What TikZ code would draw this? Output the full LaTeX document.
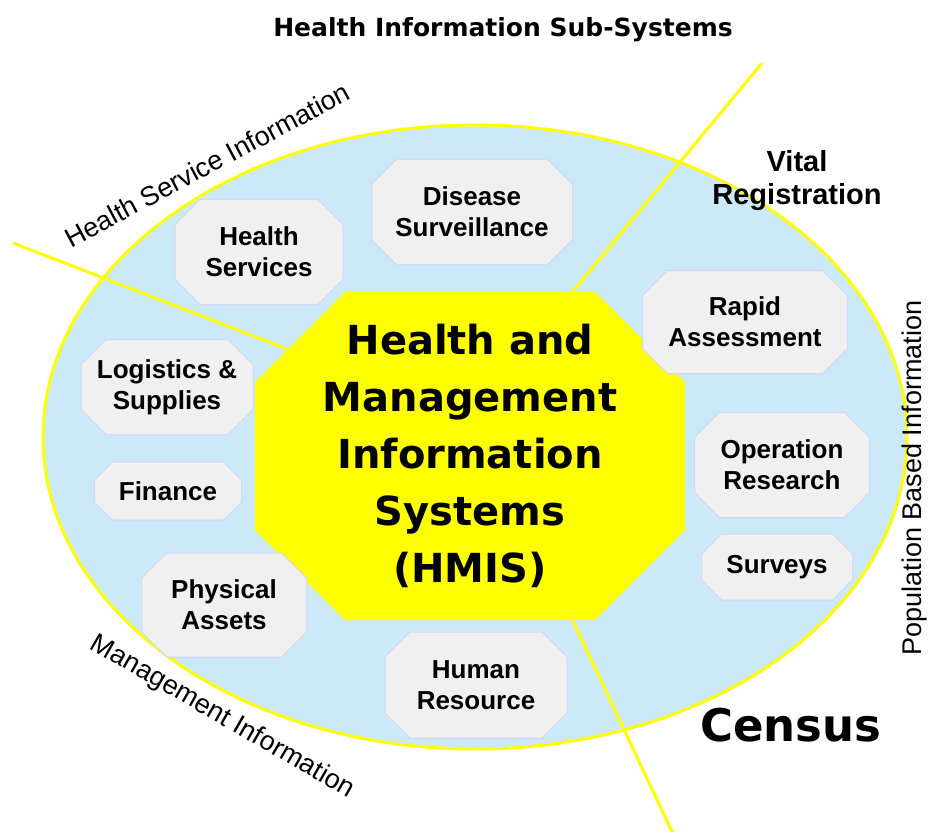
\documentclass[tikz,border=0pt]{standalone}
\usepackage{fontspec}
\setmainfont{Liberation Sans}
\newfontfamily\heavyfont{DejaVu Sans}
\pgfdeclarelayer{background}
\pgfsetlayers{background,main}
\definecolor{skyfill}{HTML}{CCE9FA}
\definecolor{boxfill}{HTML}{F0F0F0}
\definecolor{boxline}{HTML}{D6D6F6}
\definecolor{hmisyellow}{HTML}{FFFF00}
\tikzset{
  ring/.style={
    draw=hmisyellow,
    fill=skyfill,
    line width=3pt
  },
  divider/.style={
    draw=hmisyellow,
    line width=3pt
  },
  subsystem/.style={
    fill=boxfill,
    draw=boxline,
    line width=1pt
  },
  subsystemtext/.style={
    align=center,
    inner sep=0pt,
    font=\bfseries\fontsize{26}{31}\selectfont
  },
  core/.style={
    fill=hmisyellow
  },
  coretext/.style={
    align=center,
    inner sep=0pt,
    minimum width=430pt,
    minimum height=328pt,
    font=\heavyfont\bfseries\fontsize{40}{57}\selectfont
  },
  sidelabel/.style={
    font=\fontsize{27}{27}\selectfont
  },
  heading/.style={
    align=center,
    font=\heavyfont\bfseries\fontsize{#1}{#1}\selectfont
  }
}

\begin{document}
\begin{tikzpicture}[x=1pt,y=-1pt]
\useasboundingbox (0,0) rectangle (943,832);
% outer oval
\begin{pgfonlayer}{background}
\draw[ring] (475,437) ellipse [x radius=432pt, y radius=312pt];
\end{pgfonlayer}
% centre
\path[core] (470,456) ++(-125,-164) -- ++(250,0) -- ++(90,90) -- ++(0,148) -- ++(-90,90)
  -- ++(-250,0) -- ++(-90,-90) -- ++(0,-148) -- cycle;
\node[coretext] (hmis) at (470,456) {Health and\\Management\\Information\\Systems\\(HMIS)};
% sub-systems
\foreach \name/\cx/\cy/\bw/\bh/\bcut/\txt in {
  services/259/252/168/105/25/{Health\\Services},
  disease/472/212/201/105/25/{Disease\\Surveillance},
  rapid/745/322/205/103/25/{Rapid\\Assessment},
  operation/782/465/175/105/25/{Operation\\Research},
  surveys/777/567/151/66/20/{Surveys},
  human/476/685/182/106/25/{Human\\Resource},
  assets/224/605/165/104/25/{Physical\\Assets},
  finance/168/491/147/58/18/{Finance},
  logistics/167/387/172/95/25/{Logistics \&\\Supplies}%
} {
  \path[subsystem] (\cx,\cy) ++(-\bw/2+\bcut,-\bh/2) -- ++(\bw-2*\bcut,0) -- ++(\bcut,\bcut)
    -- ++(0,\bh-2*\bcut) -- ++(-\bcut,\bcut) -- ++(-\bw+2*\bcut,0) -- ++(-\bcut,-\bcut)
    -- ++(0,-\bh+2*\bcut) -- cycle;
  \node[subsystemtext] (\name) at (\cx,\cy) {\txt};
}
% dividing lines
\coordinate (westend) at (13,243);
\coordinate (northend) at (762,63);
\coordinate (southend) at (673,834);
\begin{pgfonlayer}{background}
\draw[divider] (westend) -- ([shift={(60,23)}]hmis.151);
\draw[divider] (northend) -- (hmis.58);
\draw[divider] (hmis.-58) -- (southend);
\end{pgfonlayer}
% labels round the oval
\node[heading=25] (title) at (503,30) {Health Information Sub-Systems};
\node[font=\bfseries\fontsize{29}{33}\selectfont,align=center] (vital) at (797,181) {Vital\\Registration};
\node[heading=45] (census) at (791,725) {Census};
\node[sidelabel,rotate=28] (servicelabel) at (207,165) {Health Service Information};
\node[sidelabel,rotate=-30] (managementlabel) at (222,717) {Management Information};
\node[sidelabel,rotate=90] (populationlabel) at (915,478) {Population Based Information};
\end{tikzpicture}
\end{document}
